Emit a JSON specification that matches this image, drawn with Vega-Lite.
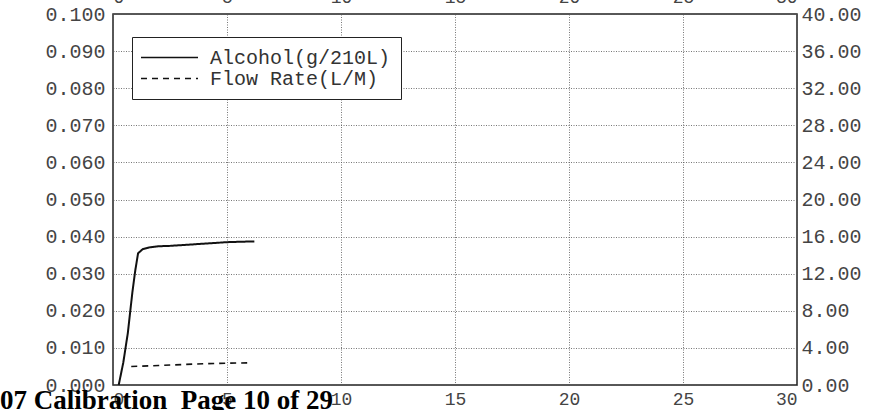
{
  "$schema": "https://vega.github.io/schema/vega-lite/v6.json",
  "width": 684,
  "height": 371,
  "autosize": {"type": "none"},
  "padding": {"left": 113, "top": 14, "right": 76, "bottom": 25},
  "background": "white",
  "title": {
    "text": "07 Calibration\u00a0 Page 10 of 29",
    "orient": "bottom",
    "anchor": "start",
    "frame": "group",
    "font": "Liberation Serif",
    "fontWeight": "bold",
    "fontSize": 27,
    "color": "#000",
    "offset": 0,
    "dx": -113,
    "dy": -20
  },
  "config": {
    "view": {"stroke": "#222", "strokeWidth": 1.5},
    "axis": {
      "labelFont": "Liberation Mono",
      "labelColor": "#444",
      "domain": false,
      "ticks": false,
      "title": null
    }
  },
  "data": {
    "values": [
      {"t": 0.25, "v": 0.0, "series": "Alcohol(g/210L)"},
      {"t": 0.45, "v": 0.006, "series": "Alcohol(g/210L)"},
      {"t": 0.65, "v": 0.014, "series": "Alcohol(g/210L)"},
      {"t": 0.85, "v": 0.025, "series": "Alcohol(g/210L)"},
      {"t": 0.98, "v": 0.031, "series": "Alcohol(g/210L)"},
      {"t": 1.1, "v": 0.0355, "series": "Alcohol(g/210L)"},
      {"t": 1.3, "v": 0.0366, "series": "Alcohol(g/210L)"},
      {"t": 1.6, "v": 0.0371, "series": "Alcohol(g/210L)"},
      {"t": 2.0, "v": 0.0374, "series": "Alcohol(g/210L)"},
      {"t": 2.5, "v": 0.0375, "series": "Alcohol(g/210L)"},
      {"t": 3.0, "v": 0.0377, "series": "Alcohol(g/210L)"},
      {"t": 3.5, "v": 0.0379, "series": "Alcohol(g/210L)"},
      {"t": 4.0, "v": 0.0381, "series": "Alcohol(g/210L)"},
      {"t": 4.5, "v": 0.0383, "series": "Alcohol(g/210L)"},
      {"t": 5.0, "v": 0.0385, "series": "Alcohol(g/210L)"},
      {"t": 5.5, "v": 0.0386, "series": "Alcohol(g/210L)"},
      {"t": 6.2, "v": 0.0387, "series": "Alcohol(g/210L)"},
      {"t": 0.8, "v": 2.0, "series": "Flow Rate(L/M)"},
      {"t": 2.0, "v": 2.1, "series": "Flow Rate(L/M)"},
      {"t": 3.0, "v": 2.2, "series": "Flow Rate(L/M)"},
      {"t": 4.0, "v": 2.3, "series": "Flow Rate(L/M)"},
      {"t": 5.0, "v": 2.35, "series": "Flow Rate(L/M)"},
      {"t": 6.1, "v": 2.4, "series": "Flow Rate(L/M)"}
    ]
  },
  "encoding": {
    "color": {
      "field": "series",
      "type": "nominal",
      "scale": {"domain": ["Alcohol(g/210L)", "Flow Rate(L/M)"], "range": ["#111", "#111"]},
      "legend": {
        "title": null,
        "orient": "none",
        "legendX": 19,
        "legendY": 23,
        "direction": "vertical",
        "symbolType": "M-3,0H3",
        "symbolSize": 361,
        "symbolOffset": 17,
        "symbolStrokeWidth": 1.5,
        "labelFont": "Liberation Mono",
        "labelFontSize": 20,
        "labelColor": "#333",
        "labelOffset": 30,
        "labelLimit": 0,
        "padding": 10,
        "rowPadding": -3,
        "strokeColor": "#222",
        "fillColor": "white"
      }
    },
    "strokeDash": {
      "field": "series",
      "type": "nominal",
      "scale": {"domain": ["Alcohol(g/210L)", "Flow Rate(L/M)"], "range": [[1, 0], [6, 5]]},
      "legend": null
    }
  },
  "layer": [
    {
      "transform": [{"filter": "datum.series === 'Alcohol(g/210L)'"}],
      "mark": {"type": "line", "strokeWidth": 2},
      "encoding": {
        "x": {
          "field": "t",
          "type": "quantitative",
          "scale": {"domain": [0, 30]},
          "axis": {
            "values": [0, 5, 10, 15, 20, 25, 30],
            "labelFontSize": 18,
            "labelPadding": 5,
            "grid": true,
            "gridColor": "#555",
            "gridDash": [1, 1.5],
            "gridOpacity": 0.8
          }
        },
        "y": {
          "field": "v",
          "type": "quantitative",
          "scale": {"domain": [0, 0.1]},
          "axis": {
            "values": [0, 0.01, 0.02, 0.03, 0.04, 0.05, 0.06, 0.07, 0.08, 0.09, 0.1],
            "format": ".3f",
            "labelFontSize": 20,
            "labelPadding": 8,
            "grid": true,
            "gridColor": "#555",
            "gridDash": [1, 1.5],
            "gridOpacity": 0.8
          }
        }
      }
    },
    {
      "transform": [{"filter": "datum.series === 'Flow Rate(L/M)'"}],
      "mark": {"type": "line", "strokeWidth": 1.6},
      "encoding": {
        "x": {"field": "t", "type": "quantitative", "scale": {"domain": [0, 30]}, "axis": null},
        "y": {
          "field": "v",
          "type": "quantitative",
          "scale": {"domain": [0, 40]},
          "axis": {
            "orient": "right",
            "values": [0, 4, 8, 12, 16, 20, 24, 28, 32, 36, 40],
            "format": ".2f",
            "labelFontSize": 20,
            "labelPadding": 4,
            "grid": false
          }
        }
      }
    },
    {
      "data": {"values": [{"t": 0}, {"t": 30}]},
      "mark": {"type": "rule", "opacity": 0},
      "encoding": {
        "x": {
          "field": "t",
          "type": "quantitative",
          "scale": {"domain": [0, 30]},
          "axis": {
            "orient": "top",
            "values": [0, 5, 10, 15, 20, 25, 30],
            "labelFontSize": 18,
            "labelPadding": 8,
            "grid": false
          }
        }
      }
    }
  ],
  "resolve": {"scale": {"x": "independent", "y": "independent"}}
}
